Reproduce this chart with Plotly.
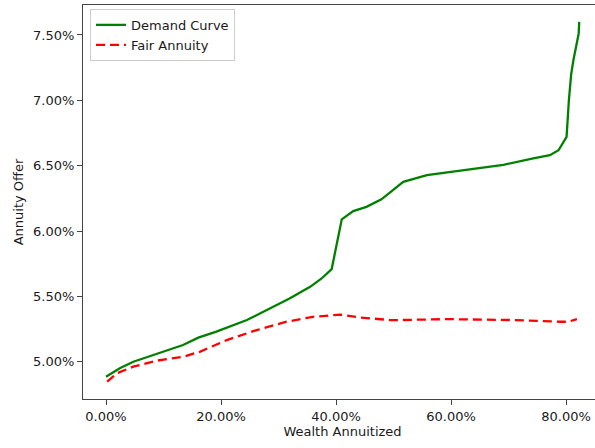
import plotly.graph_objects as go

# Wealth annuitized (%) and annuity offer (%)
demand_x = [0.0, 2.4, 4.75, 7.65, 10.5, 13.4, 16.05, 19.2, 24.5, 27.9, 32.0, 35.5, 37.5, 39.25,
            41.0, 43.0, 45.3, 47.9, 49.6, 51.7, 55.8, 63.3, 69.1, 74.3, 77.2, 78.7, 79.8,
            80.1, 80.5, 80.9, 81.3, 81.8, 82.2, 82.3]
demand_y = [4.885, 4.95, 5.0, 5.044, 5.082, 5.128, 5.184, 5.23, 5.319, 5.395, 5.485, 5.573, 5.637, 5.709,
            6.089, 6.152, 6.185, 6.242, 6.30, 6.376, 6.427, 6.471, 6.506, 6.555, 6.58, 6.618, 6.695,
            6.72, 7.0, 7.2, 7.31, 7.42, 7.51, 7.60]

fair_x = [0.2, 1.86, 4.75, 8.8, 13.4, 16.3, 21.0, 26.2, 31.4, 36.0, 40.7, 43.9, 49.4, 51.1,
          59.3, 70.8, 79.0, 80.4, 81.9]
fair_y = [4.847, 4.911, 4.962, 5.008, 5.038, 5.076, 5.166, 5.242, 5.306, 5.344, 5.36, 5.34, 5.319, 5.319,
          5.326, 5.319, 5.306, 5.306, 5.326]

x_ticks = [0, 20, 40, 60, 80]
y_ticks = [5.0, 5.5, 6.0, 6.5, 7.0, 7.5]

fig = go.Figure()
fig.add_trace(go.Scatter(x=[v / 100 for v in demand_x], y=[v / 100 for v in demand_y],
                         mode="lines", name="Demand Curve",
                         line=dict(color="#008000", width=2.3)))
fig.add_trace(go.Scatter(x=[v / 100 for v in fair_x], y=[v / 100 for v in fair_y],
                         mode="lines", name="Fair Annuity",
                         line=dict(color="#ff0000", width=2.3, dash="9px,5px")))

font = dict(family="DejaVu Sans", size=13, color="#1a1a1a")
fig.update_layout(
    width=602, height=448,
    margin=dict(l=83, r=0, t=5, b=49),
    paper_bgcolor="white", plot_bgcolor="white",
    font=font,
    showlegend=True,
    legend=dict(x=0.0135, y=0.99, xanchor="left", yanchor="top",
                bgcolor="rgba(255,255,255,0.9)", bordercolor="#cccccc", borderwidth=1,
                font=dict(family="DejaVu Sans", size=13, color="#1a1a1a"),
                tracegroupgap=0, itemwidth=30),
    xaxis=dict(range=[-0.040, 0.8626], tickvals=[v / 100 for v in x_ticks], tickformat=".2%",
               showgrid=False, zeroline=False, showline=True, linecolor="#444444", linewidth=1,
               mirror=True, ticks="outside", ticklen=5, tickcolor="#444444", automargin=False,
               title=dict(text="Wealth Annuitized", font=font, standoff=4)),
    yaxis=dict(range=[0.04715, 0.07729], tickvals=[v / 100 for v in y_ticks], tickformat=".2%",
               showgrid=False, zeroline=False, showline=True, linecolor="#444444", linewidth=1,
               ticks="outside", ticklen=5, tickcolor="#444444", automargin=False,
               title=dict(text="Annuity Offer", font=font, standoff=6)),
)

fig.write_html("out.html", config={"displayModeBar": False},
               post_script="document.body.style.margin='0';document.body.style.overflow='hidden';")
